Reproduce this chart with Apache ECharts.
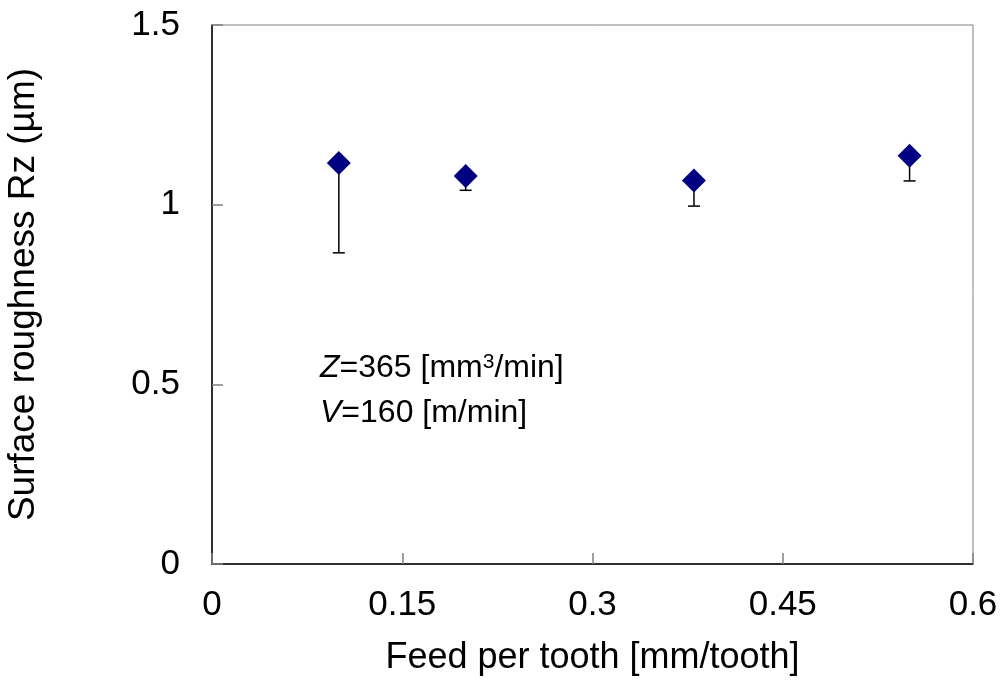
<!DOCTYPE html>
<html>
<head>
<meta charset="utf-8">
<script src="https://cdn.jsdelivr.net/npm/echarts@6/dist/echarts.min.js"></script>
<style>
html,body{margin:0;padding:0;background:#fff;}
#chart{width:1005px;height:681px;}
</style>
</head>
<body>
<div id="chart"></div>
<script>
// Data
const feed = [0.1, 0.2, 0.38, 0.55];
const roughness = [1.116, 1.080, 1.067, 1.136];
const lowerBound = [0.866, 1.040, 0.996, 1.066];
const xTickLabels = ['0', '0.15', '0.3', '0.45', '0.6'];
const yTickLabels = ['0', '0.5', '1', '1.5'];

const points = feed.map((x, i) => [x, roughness[i]]);
const errData = feed.map((x, i) => [x, roughness[i], lowerBound[i]]);

const chart = echarts.init(document.getElementById('chart'));
const font = '"Liberation Sans", Arial, sans-serif';

chart.setOption({
  animation: false,
  backgroundColor: '#fff',
  grid: {
    left: 212, top: 25, width: 761, height: 539,
    containLabel: false, outerBoundsMode: 'none',
    show: true, borderColor: '#808080', borderWidth: 1
  },
  xAxis: {
    type: 'value', min: 0, max: 0.6, interval: 0.15,
    name: 'Feed per tooth [mm/tooth]',
    nameLocation: 'middle', nameGap: 76, nameMoveOverlap: false,
    nameTextStyle: { fontFamily: font, fontSize: 36, color: '#000' },
    axisLine: { show: true, onZero: false, lineStyle: { color: '#000', width: 1.5 } },
    axisTick: { show: true, inside: true, length: 11, lineStyle: { color: '#808080', width: 1.5 } },
    splitLine: { show: false },
    axisLabel: {
      fontFamily: font, fontSize: 35, color: '#000', margin: 24,
      formatter: (v) => xTickLabels[Math.round(v / 0.15)]
    }
  },
  yAxis: {
    type: 'value', min: 0, max: 1.5, interval: 0.5,
    name: 'Surface roughness Rz (µm)',
    nameLocation: 'middle', nameGap: 170, nameRotate: 90, nameMoveOverlap: false,
    nameTextStyle: { fontFamily: font, fontSize: 37, color: '#000' },
    axisLine: { show: true, onZero: false, lineStyle: { color: '#000', width: 1.5 } },
    axisTick: { show: true, inside: true, length: 11, lineStyle: { color: '#808080', width: 1.5 } },
    splitLine: { show: false },
    axisLabel: {
      fontFamily: font, fontSize: 35, color: '#000', margin: 32,
      formatter: (v) => yTickLabels[Math.round(v / 0.5)]
    }
  },
  series: [
    {
      type: 'custom',
      z: 2,
      data: errData,
      encode: { x: 0, y: [1, 2] },
      renderItem: function (params, api) {
        const top = api.coord([api.value(0), api.value(1)]);
        const bot = api.coord([api.value(0), api.value(2)]);
        const hw = 6;
        const style = { stroke: '#000', lineWidth: 1.5 };
        return {
          type: 'group',
          children: [
            { type: 'line', shape: { x1: top[0], y1: top[1], x2: bot[0], y2: bot[1] }, style: style },
            { type: 'line', shape: { x1: bot[0] - hw, y1: bot[1], x2: bot[0] + hw, y2: bot[1] }, style: style }
          ]
        };
      }
    },
    {
      type: 'scatter',
      z: 3,
      data: points,
      symbol: 'diamond',
      symbolSize: 24,
      itemStyle: { color: '#000080', opacity: 1 }
    }
  ],
  graphic: [
    {
      type: 'text', left: 320, top: 352,
      style: {
        text: '{i|Z}=365 [mm{sup|3}/min]',
        rich: {
          i: { fontFamily: font, fontSize: 32, fontStyle: 'italic', fill: '#000' },
          sup: { fontFamily: font, fontSize: 21, fill: '#000', verticalAlign: 'top', padding: [0, 0, 10, 0] }
        },
        fontFamily: font, fontSize: 32, fill: '#000'
      }
    },
    {
      type: 'text', left: 320, top: 397,
      style: {
        text: '{i|V}=160 [m/min]',
        rich: {
          i: { fontFamily: font, fontSize: 32, fontStyle: 'italic', fill: '#000' }
        },
        fontFamily: font, fontSize: 32, fill: '#000'
      }
    }
  ]
});
</script>
</body>
</html>
